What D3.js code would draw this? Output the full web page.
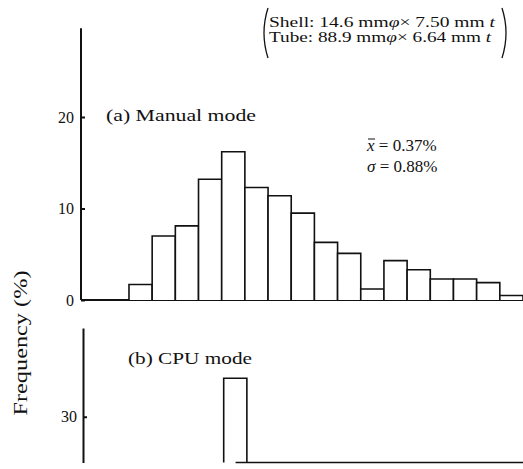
<!DOCTYPE html>
<html>
<head>
<meta charset="utf-8">
<script src="https://cdn.jsdelivr.net/npm/d3@7"></script>
<style>
	body { margin: 0; background: #fff; }
	svg text { font-family: "Liberation Serif", "Times New Roman", "DejaVu Serif", serif; fill: #111; }
	.bar { fill: #fff; stroke: #111; stroke-width: 1.6; }
	.axis path, .axis line { stroke: #111; stroke-width: 2; }
</style>
</head>
<body>
<svg id="chart" width="523" height="469"></svg>
<script>

// Bin edges (deviation, %) : each bin 0.25 % wide, first starting at -1.25 %
const binStarts = [-1.25, -1.0, -0.75, -0.5, -0.25, 0.0, 0.25, 0.5, 0.75,
				   1.0, 1.25, 1.5, 1.75, 2.0, 2.25, 2.5, 2.75];
const binWidth = 0.25;

// (a) Manual mode frequencies (%)
const manualFreq = [1.7, 7.0, 8.1, 13.2, 16.2, 12.3, 11.4, 9.5, 6.3,
					5.1, 1.2, 4.3, 3.3, 2.3, 2.3, 1.9, 0.5];

// (b) CPU mode : only the tall bin is visible, the rest is cut off below
const cpuStarts = [-0.25];
const cpuFreq = [34.2];
const cpuFloor = [{ from: -0.1, to: 3.0, value: 25 }];

const topTicks = [0, 10, 20];
const bottomTicks = [30];

const serif = "'Liberation Serif', 'Times New Roman', 'DejaVu Serif', serif";

const svg = d3.select("#chart")
			.attr("font-family", serif);

const x = d3.scaleLinear()
			.domain([-1.8, 3.0])
			.range([78, 523]);

const yTop = d3.scaleLinear()
			.domain([0, 30])
			.range([300, 25.5]);

const yBot = d3.scaleLinear()
			.domain([25, 39.7])
			.range([462.5, 328]);

// Open-bottomed bar outline, baseline is drawn on its own
function barPath(x0, x1, top, base) {
	return "M" + x0 + "," + base + "V" + top + "H" + x1 + "V" + base;
}

// ---- (a) Manual mode ----
svg.append("g")
	.classed("axis", true)
	.attr("transform", "translate(81,0)")
	.call(d3.axisLeft(yTop)
		.tickValues(topTicks)
		.tickSize(-4)
		.tickSizeOuter(0)
		.tickPadding(7))
	.call(g => g.attr("font-family", serif).attr("font-size", 16))
	.call(g => g.select(".domain").attr("d", "M0," + yTop(0) + "V" + yTop(29.7)));

svg.append("line")
	.attr("x1", 81).attr("x2", x(3.0))
	.attr("y1", yTop(0)).attr("y2", yTop(0))
	.attr("stroke", "#111")
	.attr("stroke-width", 2);

svg.append("g")
	.selectAll("path")
	.data(manualFreq)
	.join("path")
	.classed("bar", true)
	.attr("d", (d, i) => barPath(x(binStarts[i]), x(binStarts[i] + binWidth),
								 yTop(d), yTop(0)));

svg.append("text")
	.attr("x", 106).attr("y", 121)
	.attr("font-size", 17.5)
	.attr("textLength", 150)
	.attr("lengthAdjust", "spacingAndGlyphs")
	.text("(a) Manual  mode");

// Mean and standard deviation
const stats = svg.append("g").attr("font-size", 17);
const mean = stats.append("text").attr("x", 367).attr("y", 151);
mean.append("tspan").attr("font-style", "italic").text("x");
mean.append("tspan").text(" = 0.37%");
// bar over the x
const xw = mean.node().getSubStringLength(0, 1);
stats.append("line")
	.attr("x1", 368).attr("x2", 367 + xw + 0.5)
	.attr("y1", 139).attr("y2", 139)
	.attr("stroke", "#111").attr("stroke-width", 1);
const sd = stats.append("text").attr("x", 367).attr("y", 172);
sd.append("tspan").attr("font-style", "italic").text("\u03c3");
sd.append("tspan").text(" = 0.88%");

// ---- (b) CPU mode ----
svg.append("g")
	.classed("axis", true)
	.attr("transform", "translate(83,0)")
	.call(d3.axisLeft(yBot)
		.tickValues(bottomTicks)
		.tickSize(-4)
		.tickSizeOuter(0)
		.tickPadding(6))
	.call(g => g.attr("font-family", serif).attr("font-size", 16));

svg.append("g")
	.selectAll("path")
	.data(cpuFreq)
	.join("path")
	.classed("bar", true)
	.attr("d", (d, i) => barPath(x(cpuStarts[i]) + 2, x(cpuStarts[i] + binWidth) + 2,
								 yBot(d), yBot(25)));

svg.append("g")
	.selectAll("line")
	.data(cpuFloor)
	.join("line")
	.attr("x1", d => x(d.from)).attr("x2", d => x(d.to))
	.attr("y1", d => yBot(d.value)).attr("y2", d => yBot(d.value))
	.attr("stroke", "#111")
	.attr("stroke-width", 1.6);

svg.append("text")
	.attr("x", 128).attr("y", 364)
	.attr("font-size", 17.5)
	.attr("textLength", 124)
	.attr("lengthAdjust", "spacingAndGlyphs")
	.text("(b) CPU  mode");

// ---- shared y label ----
svg.append("text")
	.attr("transform", "translate(27,343) rotate(-90)")
	.attr("text-anchor", "middle")
	.attr("font-size", 19)
	.attr("textLength", 145)
	.attr("lengthAdjust", "spacingAndGlyphs")
	.text("Frequency (%)");

// ---- specimen size note, in large parentheses ----
const note = svg.append("g").attr("font-size", 15);
const lines = [
	["Shell: 14.6 mm", "7.50 mm"],
	["Tube: 88.9 mm", "6.64 mm"]
];
lines.forEach((l, i) => {
	const t = note.append("text")
				.attr("x", 269).attr("y", 26.5 + i * 15.5)
				.attr("textLength", i == 0 ? 226 : 222)
				.attr("lengthAdjust", "spacingAndGlyphs");
	t.append("tspan").text(l[0]);
	t.append("tspan").attr("font-style", "italic").text("\u03c6");
	t.append("tspan").text("\u00d7 " + l[1] + " ");
	t.append("tspan").attr("font-style", "italic").text("t");
});

note.append("path")
	.attr("d", "M268,8 Q260,33 268,58")
	.attr("fill", "none").attr("stroke", "#111").attr("stroke-width", 1.3);
note.append("path")
	.attr("d", "M502,8 Q510,33 502,58")
	.attr("fill", "none").attr("stroke", "#111").attr("stroke-width", 1.3);

</script>
</body>
</html>
